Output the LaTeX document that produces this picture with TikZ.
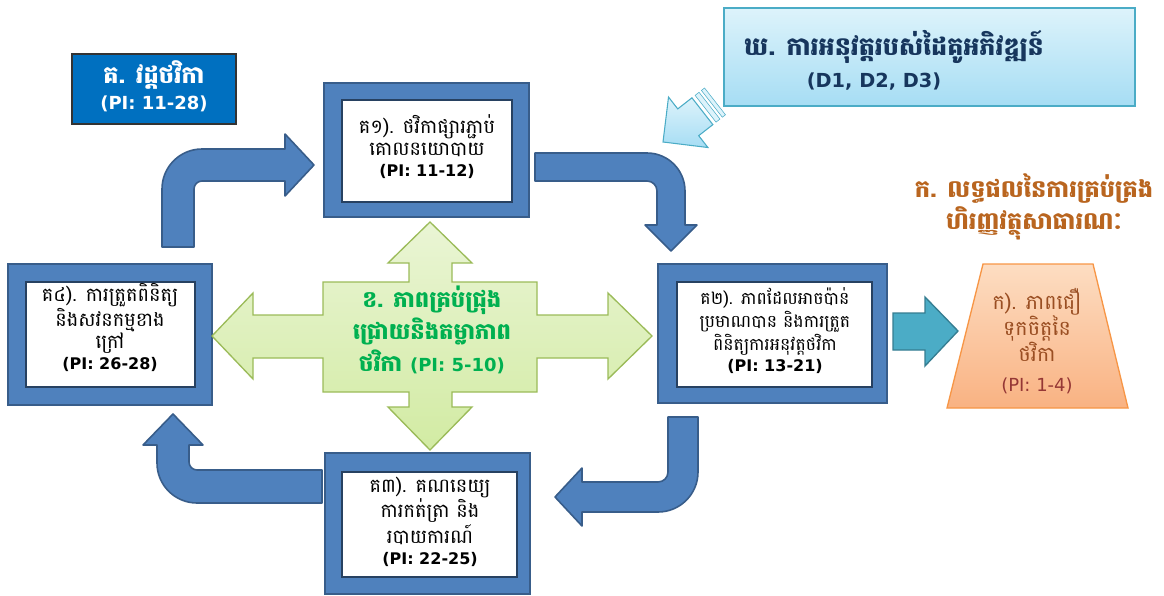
\documentclass[tikz,border=0pt]{standalone}
\usepackage{fontspec}
\setmainfont{DejaVu Sans}
\newfontfamily\kh[Script=Khmer]{Battambang}
\usepackage{tikz}
\usepackage{xcolor}
\definecolor{frameblue}{HTML}{4F81BD}
\definecolor{edgeblue}{HTML}{385D8A}
\definecolor{titleblue}{HTML}{0070C0}
\definecolor{leafgreen}{HTML}{00B050}
\definecolor{crossedge}{HTML}{9BBB59}
\definecolor{crosstop}{HTML}{EAF5D5}
\definecolor{crossbot}{HTML}{D2EBA3}
\definecolor{arrowteal}{HTML}{4BACC6}
\definecolor{tealedge}{HTML}{357D91}
\definecolor{calltop}{HTML}{DDF3FB}
\definecolor{callbot}{HTML}{A6DDF4}
\definecolor{peachedge}{HTML}{F79646}
\definecolor{peachtop}{HTML}{FDDDC2}
\definecolor{peachbot}{HTML}{F9B282}
\definecolor{rustbrown}{HTML}{B9651F}
\definecolor{claybrown}{HTML}{9A4E22}
\definecolor{clayred}{HTML}{953735}
\definecolor{navytext}{HTML}{17365D}
\newcommand{\pinum}[2][12]{{\normalfont\bfseries\fontsize{#1}{#1}\selectfont (PI: #2)}}

\begin{document}
\begin{tikzpicture}[x=0.75pt,y=-0.75pt,
        bigtext/.style 2 args={text centered,inner sep=0pt,font=\kh\bfseries\fontsize{#1}{#2}\selectfont}]
        \tikzstyle{frame}=[draw=edgeblue,fill=frameblue,line width=1.2pt]
        \tikzstyle{inner}=[draw=edgeblue!70!black,fill=white,line width=1pt]
        \tikzstyle{bent}=[draw=edgeblue,fill=frameblue,line width=1.2pt,line join=round]
        \tikzstyle{boxtext}=[text centered,inner sep=0pt,font=\kh\fontsize{14.5}{16}\selectfont]

        \useasboundingbox (0,0) rectangle (1164,596);

        % four bent arrows of the cycle
        \draw[bent] (162,247) -- (162,189) arc[start angle=180,end angle=270,radius=40] -- (285,149) -- (285,134) -- (314,165) -- (285,196) -- (285,181) -- (202,181) arc[start angle=270,end angle=180,radius=8] -- (194,247) -- cycle;
        \draw[bent] (535,153) -- (647,153) arc[start angle=270,end angle=360,radius=38] -- (685,225) -- (697,225) -- (671,251) -- (645,225) -- (657,225) -- (657,191) arc[start angle=0,end angle=-90,radius=10] -- (535,181) -- cycle;
        \draw[bent] (668,417) -- (698,417) -- (698,472) arc[start angle=0,end angle=90,radius=40] -- (582,512) -- (582,526) -- (555,497) -- (582,468) -- (582,482) -- (658,482) arc[start angle=90,end angle=0,radius=10] -- cycle;
        \draw[bent] (322,470) -- (322,503) -- (197,503) arc[start angle=90,end angle=180,radius=40] -- (157,445) -- (143,445) -- (173,414) -- (203,445) -- (189,445) -- (189,462) arc[start angle=180,end angle=90,radius=8] -- cycle;

        % framed boxes
        \filldraw[frame] (324,83) rectangle (529,217);
        \filldraw[inner] (342,100) rectangle (512,202);
        \filldraw[frame] (658,264) rectangle (887,403);
        \filldraw[inner] (677,282) rectangle (872,387);
        \filldraw[frame] (325,453) rectangle (530,594);
        \filldraw[inner] (342,472) rectangle (517,577);
        \filldraw[frame] (8,264) rectangle (212,405);
        \filldraw[inner] (26,282) rectangle (195,387);

        \node[boxtext] (g1) at (427,149) {
            \begin{tabular}{c}
                គ១). ថវិកាផ្សារភ្ជាប់ \\
                គោលនយោបាយ \\
                \pinum{11-12}
            \end{tabular}};
        \node[boxtext,font=\kh\fontsize{13}{16}\selectfont] (g2) at (775,333) {
            \begin{tabular}{c}
                គ២). ភាពដែលអាចប៉ាន់ \\
                ប្រមាណបាន និងការត្រួត \\
                ពិនិត្យការអនុវត្តថវិកា \\
                \pinum{13-21}
            \end{tabular}};
        \node[boxtext] (g3) at (430,524) {
            \begin{tabular}{c}
                គ៣). គណនេយ្យ \\
                ការកត់ត្រា និង \\
                របាយការណ៍ \\
                \pinum{22-25}
            \end{tabular}};
        \node[boxtext] (g4) at (110,330) {
            \begin{tabular}{c}
                គ៤). ការត្រួតពិនិត្យ \\
                និងសវនកម្មខាង \\
                ក្រៅ \\
                \pinum{26-28}
            \end{tabular}};

        % cycle title
        \filldraw[draw=black!80,fill=titleblue,line width=0.8pt] (72,54) rectangle (236,124);
        \node[bigtext={18}{20},text=white] (cycle) at (154,89) {
            \begin{tabular}{c}
                គ. វដ្តថវិកា \\
                \pinum[13.5]{11-28}
            \end{tabular}};

        % four way arrow in the middle
        \draw[draw=crossedge,line width=1pt,top color=crosstop,bottom color=crossbot]
            (430,222) -- (472,263) -- (452,263) -- (452,282) -- (537,282) -- (537,315) -- (608,315) -- (608,293) -- (652,336) -- (608,379) -- (608,358) -- (537,358) -- (537,392) -- (452,392) -- (452,407) -- (472,407) -- (430,450) -- (388,407) -- (409,407) -- (409,392) -- (323,392) -- (323,358) -- (253,358) -- (253,379) -- (212,336) -- (253,293) -- (253,315) -- (323,315) -- (323,282) -- (409,282) -- (409,263) -- (388,263) -- cycle;
        \node[bigtext={17}{24},text=leafgreen] (cross) at (432,333) {
            \begin{tabular}{c}
                ខ. ភាពគ្រប់ជ្រុង \\
                ជ្រោយនិងតម្លាភាព \\
                ថវិកា \pinum[13.5]{5-10}
            \end{tabular}};

        % partners callout
        \begin{scope}[shift={(663,142)},rotate=218]
            \draw[draw=arrowteal,line width=0.8pt,top color=calltop,bottom color=callbot] (0,0) -- (-32,-32) -- (-32,-17) -- (-50,-17) -- (-50,17) -- (-32,17) -- (-32,32) -- cycle;
            \filldraw[draw=arrowteal,fill=calltop] (-59,-17) rectangle (-54,17);
            \filldraw[draw=arrowteal,fill=calltop] (-66,-17) rectangle (-62,17);
        \end{scope}
        \draw[draw=arrowteal,line width=0.8pt,top color=calltop,bottom color=callbot] (724,8) rectangle (1135,106);
        \node[bigtext={19}{24},text=navytext] (partner) at (894,64) {
            \begin{tabular}{c}
                ឃ. ការអនុវត្តរបស់ដៃគូអភិវឌ្ឍន៍ \\
                {\normalfont\bfseries\fontsize{14.5}{15}\selectfont (D1, D2, D3)}\hspace*{30pt}
            \end{tabular}};

        % outcome
        \node[bigtext={18}{21},text=rustbrown] (outcome) at (1034,207) {
            \begin{tabular}{c}
                ក. លទ្ធផលនៃការគ្រប់គ្រង \\
                ហិរញ្ញវត្ថុសាធារណៈ
            \end{tabular}};
        \draw[draw=tealedge,line width=1pt,fill=arrowteal] (893,313) -- (925,313) -- (925,297) -- (958,331) -- (925,366) -- (925,350) -- (893,350) -- cycle;
        \draw[draw=peachedge,line width=1pt,top color=peachtop,bottom color=peachbot] (983,264) -- (1093,264) -- (1128,408) -- (947,408) -- cycle;
        \node[boxtext,font=\kh\fontsize{15.5}{17}\selectfont,text=claybrown] (trust) at (1037,343) {
            \begin{tabular}{c}
                ក). ភាពជឿ \\
                ទុកចិត្តនៃ \\
                ថវិកា \\[5pt]
                {\normalfont\color{clayred}\fontsize{13.5}{13.5}\selectfont (PI: 1-4)}
            \end{tabular}};

\end{tikzpicture}
\end{document}
